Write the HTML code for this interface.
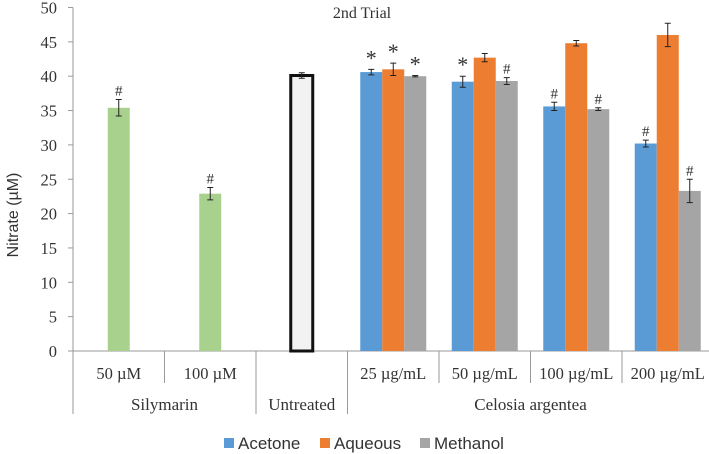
<!DOCTYPE html>
<html><head><meta charset="utf-8"><style>
body{margin:0;background:#fff}
svg{display:block}
.ser{font-family:"Liberation Serif",serif;fill:#333}
.san{font-family:"Liberation Sans",sans-serif;fill:#333}
</style></head><body>
<svg id="chart" width="709" height="454" viewBox="0 0 709 454" xmlns="http://www.w3.org/2000/svg">
<text class="ser" x="362" y="18" font-size="16" text-anchor="middle">2nd Trial</text>
<text class="san" transform="translate(18,215) rotate(-90)" font-size="16" text-anchor="middle">Nitrate (µM)</text>
<g id="axes"></g><g id="bars"></g><g id="xlabels"></g>
<g>
<rect x="224" y="438" width="10" height="10" fill="#5b9bd5"/>
<text class="san" x="238" y="449" font-size="17">Acetone</text>
<rect x="320" y="438" width="10" height="10" fill="#ed7d31"/>
<text class="san" x="334" y="449" font-size="17">Aqueous</text>
<rect x="420" y="438" width="10" height="10" fill="#a5a5a5"/>
<text class="san" x="434" y="449" font-size="17">Methanol</text>
</g>
</svg>
<script>
const yTicks=[0,5,10,15,20,25,30,35,40,45,50];
const categories=["50 µM","100 µM","","25 µg/mL","50 µg/mL","100 µg/mL","200 µg/mL"];
const groups=[["Silymarin",0,2],["Untreated",2,3],["Celosia argentea",3,7]];
const silyValues=[35.4,22.9];
const silyErr=[1.2,0.9];
const silyMarks=["#","#"];
const untreatedValue=[40.1];
const untreatedErr=[0.4];
const acetoneValues=[40.6,39.2,35.6,30.2];
const acetoneErr=[0.4,0.8,0.6,0.5];
const acetoneMarks=["*","*","#","#"];
const aqueousValues=[41.0,42.7,44.8,46.0];
const aqueousErr=[0.9,0.6,0.4,1.7];
const aqueousMarks=["*","","",""];
const methanolValues=[40.0,39.3,35.2,23.3];
const methanolErr=[0.1,0.5,0.2,1.7];
const methanolMarks=["*","#","#","#"];

const NS="http://www.w3.org/2000/svg";
const X0=73,CW=91.5,Y0=351,YMAX=50,YH=343.5,BW=22;
const y=v=>Y0-v/YMAX*YH;
const cx=i=>X0+CW*(i+0.5);
function mk(tag,attrs,parent,text){const e=document.createElementNS(NS,tag);for(const k in attrs)e.setAttribute(k,attrs[k]);if(text!==undefined)e.textContent=text;parent.appendChild(e);return e;}
const axes=document.getElementById('axes'),bars=document.getElementById('bars'),xl=document.getElementById('xlabels');
yTicks.forEach(t=>{
  const tk=mk('line',{x1:68,x2:73,y1:y(t),y2:y(t),stroke:'#999'},axes);
  
  
  const lb=mk('text',{x:57,y:y(t)+6,'font-size':16.5,'text-anchor':'end',class:'ser'},axes,String(t));
  
  
});
const ya=mk('line',{x1:X0,x2:X0,y1:y(50),y2:414,stroke:'#999'},axes);


const xa=mk('line',{x1:X0,x2:709,y1:Y0,y2:Y0,stroke:'#999'},axes);


categories.forEach((c,i)=>{
  const d=mk('line',{x1:X0+CW*(i+1),x2:X0+CW*(i+1),y1:Y0,y2:383,stroke:'#999'},axes);
  
  
  if(c){const t=mk('text',{x:cx(i),y:379,'font-size':16.5,'text-anchor':'middle',class:'ser'},xl,c);
  
  }
});
groups.forEach(g=>{
  const d=mk('line',{x1:X0+CW*g[2],x2:X0+CW*g[2],y1:Y0,y2:414,stroke:'#999'},axes);
  
  
  const t=mk('text',{x:X0+CW*(g[1]+g[2])/2,y:410,'font-size':17,'text-anchor':'middle',class:'ser'},xl,g[0]);
  
  
});
function bar(x,v,e,fill,mark,name,stroke){
  const r=mk('rect',{x:x,y:y(v),width:BW,height:Y0-y(v),fill:fill},bars);
  if(stroke){r.setAttribute('stroke',stroke);r.setAttribute('stroke-width',3);}
  
  
  const m=x+BW/2,t=y(v+e),b=y(v-e);
  const eb=mk('path',{d:`M${m},${t}V${b}M${m-3},${t}H${m+3}M${m-3},${b}H${m+3}`,stroke:'#222','stroke-width':1,fill:'none'},bars);
  
  
  if(mark){
    const s=mark==='*';
    const tx=mk('text',{x:m,y:s?t-4:t-4,'font-size':s?22:15,'text-anchor':'middle',class:'ser'},bars,mark);
    
    
  }
}
silyValues.forEach((v,i)=>bar(cx(i)-BW/2,v,silyErr[i],'#a9d18e',silyMarks[i],'bar-silymarin-'+i));
bar(cx(2)-BW/2,untreatedValue[0],untreatedErr[0],'#f2f2f2','','bar-untreated','#111');
acetoneValues.forEach((v,i)=>{
  const c=cx(i+3);
  bar(c-1.5*BW,v,acetoneErr[i],'#5b9bd5',acetoneMarks[i],'bar-acetone-'+i);
  bar(c-0.5*BW,aqueousValues[i],aqueousErr[i],'#ed7d31',aqueousMarks[i],'bar-aqueous-'+i);
  bar(c+0.5*BW,methanolValues[i],methanolErr[i],'#a5a5a5',methanolMarks[i],'bar-methanol-'+i);
});
</script>
</body></html>
